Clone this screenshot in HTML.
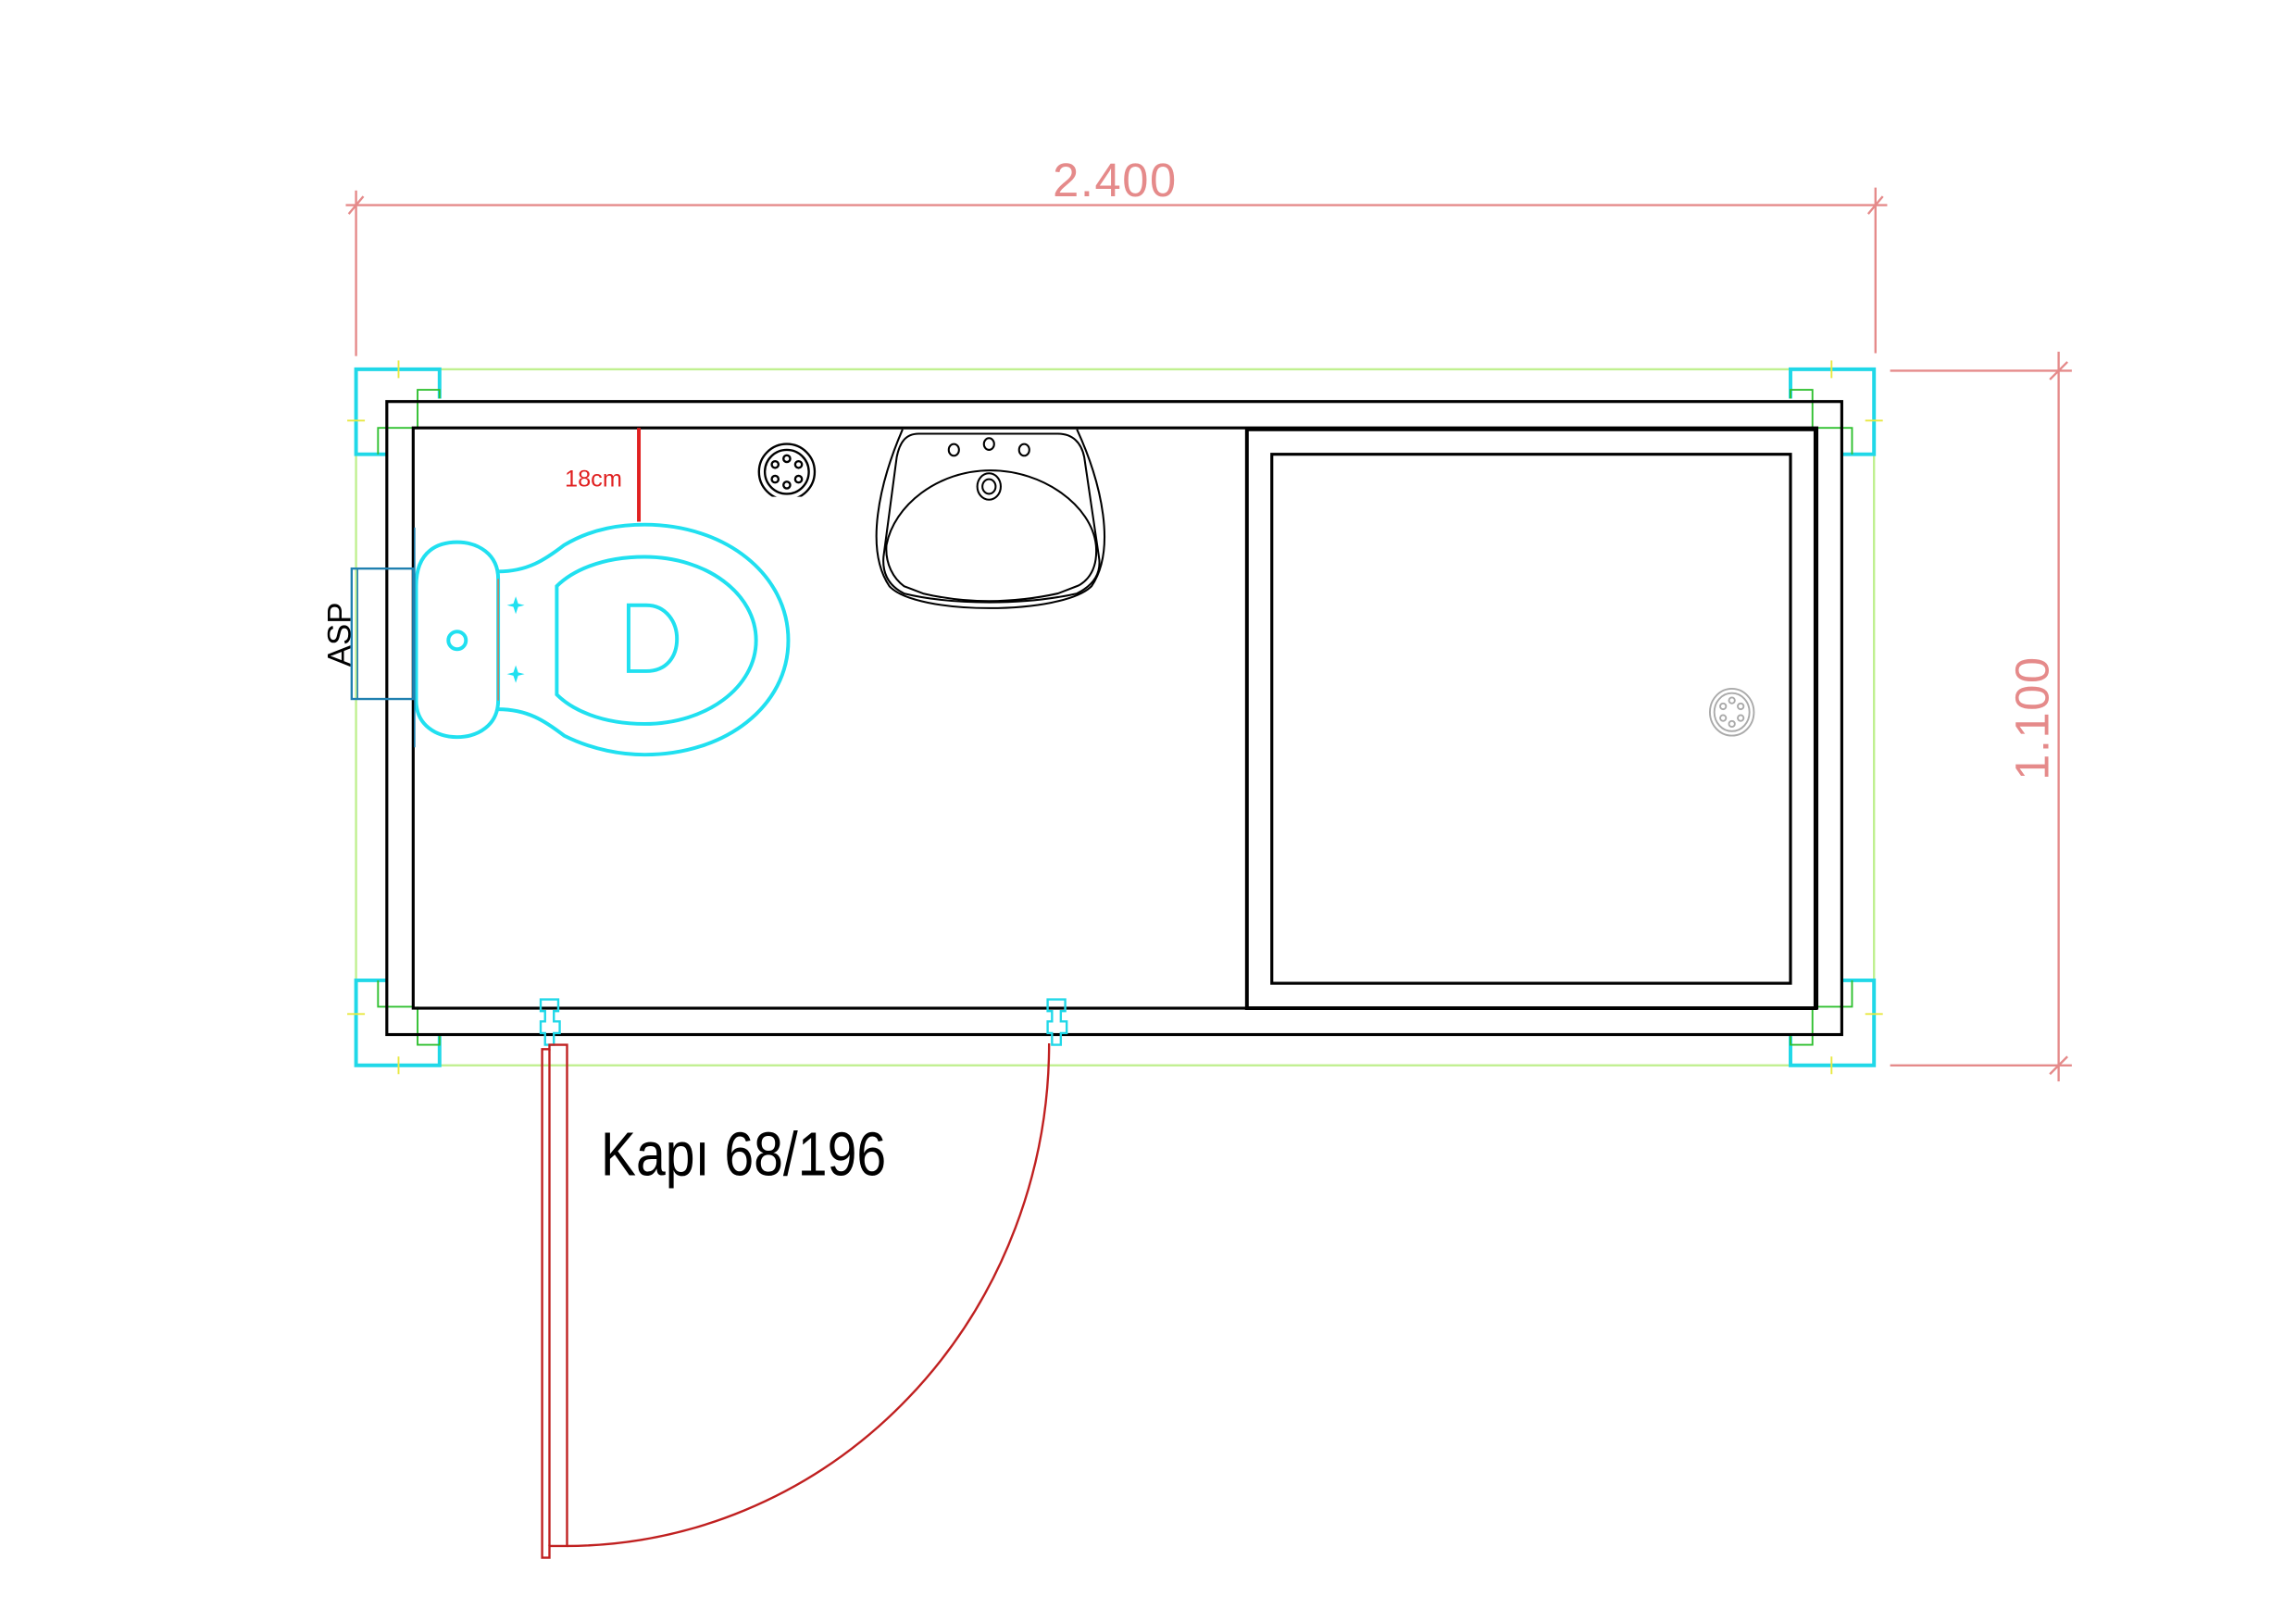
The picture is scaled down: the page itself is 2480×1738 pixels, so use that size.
<!DOCTYPE html>
<html><head><meta charset="utf-8"><style>html,body{margin:0;padding:0;background:#fff}svg{display:block}</style></head>
<body>
<svg width="2480" height="1738" viewBox="0 0 1567 1098" preserveAspectRatio="none" xmlns="http://www.w3.org/2000/svg" font-family="Liberation Sans, sans-serif">
<rect width="1567" height="1098" fill="#fff"/>
<g stroke="#e58a8a" stroke-width="1.5" fill="none">
<line x1="236" y1="140" x2="1288" y2="140"/>
<line x1="243" y1="130" x2="243" y2="243"/>
<line x1="1280" y1="128" x2="1280" y2="241"/>
<line x1="238" y1="146" x2="248" y2="134"/>
<line x1="1275" y1="146" x2="1285" y2="134"/>
<line x1="1405" y1="240" x2="1405" y2="738"/>
<line x1="1290" y1="253" x2="1414" y2="253"/>
<line x1="1290" y1="727" x2="1414" y2="727"/>
<line x1="1399" y1="259" x2="1411" y2="247"/>
<line x1="1399" y1="733" x2="1411" y2="721"/>
</g>
<text x="761" y="134" font-size="32" fill="#e58a8a" text-anchor="middle" letter-spacing="1">2.400</text>
<text transform="translate(1398,490) rotate(-90)" font-size="32" fill="#e58a8a" text-anchor="middle" letter-spacing="1">1.100</text>
<rect x="243" y="252" width="1036" height="475" fill="none" stroke="#c0f090" stroke-width="1.5"/>
<g fill="none" stroke-width="2">
<g id="c"><polyline points="300,272 300,252 243,252 243,310 264,310" stroke="#20d8e8" stroke-width="2.5"/>
<polyline points="282,292 258,292 258,310" stroke="#30c030" stroke-width="1.2"/>
<polyline points="300,272 300,266 285,266 285,292" stroke="#30c030" stroke-width="1.2"/>
<line x1="272" y1="246" x2="272" y2="258" stroke="#e8e840" stroke-width="1.2"/>
<line x1="237" y1="287" x2="249" y2="287" stroke="#e8e840" stroke-width="1.2"/></g>
<use href="#c" transform="translate(1522,0) scale(-1,1)"/>
<use href="#c" transform="translate(0,979) scale(1,-1)"/>
<use href="#c" transform="translate(1522,979) scale(-1,-1)"/>
</g>
<g fill="none" stroke="#000">
<rect x="264" y="274" width="993" height="432" stroke-width="2"/>
<rect x="282" y="292" width="958" height="396" stroke-width="2"/>
<rect x="851" y="293" width="388" height="395" stroke-width="2.5"/>
<rect x="868" y="310" width="354" height="361" stroke-width="2"/>
</g>
<g fill="none" stroke="#aaa" stroke-width="1.2">
<ellipse cx="1182" cy="486" rx="15" ry="16"/><ellipse cx="1182" cy="486" rx="12" ry="13"/>
<circle cx="1182" cy="478" r="2"/><circle cx="1182" cy="494" r="2"/><circle cx="1176" cy="482" r="2"/><circle cx="1188" cy="482" r="2"/><circle cx="1176" cy="490" r="2"/><circle cx="1188" cy="490" r="2"/>
</g>
<g fill="none" stroke="#000" stroke-width="1.5">
<ellipse cx="537" cy="322" rx="19" ry="19"/><ellipse cx="537" cy="322" rx="15" ry="15"/>
<circle cx="537" cy="313" r="2.3"/><circle cx="537" cy="331" r="2.3"/><circle cx="529" cy="317" r="2.3"/><circle cx="545" cy="317" r="2.3"/><circle cx="529" cy="327" r="2.3"/><circle cx="545" cy="327" r="2.3"/>
</g>
<rect x="515" y="339" width="44" height="4" fill="#fff"/>
<g fill="none" stroke="#000" stroke-width="1.3">
<path d="M616,293 C600,330 590,375 607,400 C625,420 725,420 745,400 C762,375 752,330 735,293"/>
<path d="M627,296 L722,296 C732,296 738,302 740,312 L750,380 C752,392 745,400 735,405 C700,413 650,413 617,405 C607,400 602,392 603,380 L612,312 C614,302 618,296 627,296 Z"/>
<path d="M605,372 C610,345 640,321 676,321 C712,321 745,345 748,372 C750,395 735,400 735,400 L722,405 C690,412 660,412 630,405 L617,400 C610,395 604,385 605,372Z"/>
<ellipse cx="651" cy="307" rx="3.5" ry="4"/><ellipse cx="675" cy="303" rx="3.5" ry="4"/><ellipse cx="699" cy="307" rx="3.5" ry="4"/>
<ellipse cx="675" cy="332" rx="8" ry="9"/><ellipse cx="675" cy="332" rx="4.5" ry="5"/>
</g>
<line x1="436" y1="292" x2="436" y2="356" stroke="#e02020" stroke-width="2.5"/>
<text x="405" y="332" font-size="16" fill="#e02020" text-anchor="middle">18cm</text>
<rect x="240" y="388" width="42" height="89" fill="none" stroke="#2080b0" stroke-width="1.5"/>
<line x1="244" y1="388" x2="244" y2="477" stroke="#2080b0" stroke-width="1"/>
<text transform="translate(239,433) rotate(-90)" font-size="22" fill="#000" text-anchor="middle">ASP</text>
<g fill="none" stroke="#20e0f0" stroke-width="2.5">
<path d="M284,400 C284,375 300,370 312,370 C326,370 340,378 340,395 L340,478 C340,495 326,503 312,503 C298,503 284,495 284,478 Z"/>
<path d="M340,390 C360,390 372,382 385,372 C405,360 425,358 440,358 C495,358 538,392 538,437 C538,482 495,515 440,515 C425,515 405,512 385,502 C372,492 360,484 340,484"/>
<path d="M380,400 C390,390 410,380 440,380 C482,380 516,405 516,437 C516,469 482,494 440,494 C410,494 390,484 380,474 Z"/>
<path d="M429,413 L441,413 C455,413 462,425 462,436 C462,448 455,458 441,458 L429,458 Z"/>
<circle cx="312" cy="437" r="6"/>
</g>
<line x1="340" y1="395" x2="340" y2="478" stroke="#c08060" stroke-width="1"/>
<line x1="283" y1="360" x2="283" y2="510" stroke="#2080b0" stroke-width="1"/>
<g fill="#20e0f0"><path d="M352,407 l2,6 l-2,6 l-2,-6z M346,413 l6,-1.5 l6,1.5 l-6,1.5z"/><path d="M352,454 l2,6 l-2,6 l-2,-6z M346,460 l6,-1.5 l6,1.5 l-6,1.5z"/></g>
<g fill="none" stroke-width="1.5">
<path d="M369,682 h12 v8 h-3 v7 h4 v8 h-4 v8 h-6 v-8 h-3 v-8 h3 v-7 h-3z" stroke="#20d8e8"/>
<path d="M715,682 h12 v8 h-3 v7 h4 v8 h-4 v8 h-6 v-8 h-3 v-8 h3 v-7 h-3z" stroke="#20d8e8"/>
<path d="M370,716 h5 v-3 h12 v342 h-12 v8 h-5 z" stroke="#c02020"/>
<line x1="375" y1="716" x2="375" y2="1055" stroke="#c02020"/>
<path d="M716,712 A330 343 0 0 1 387,1055" stroke="#c02020"/>
</g>
<text x="410" y="802" font-size="42" fill="#000" transform="translate(410,0) scale(0.86,1) translate(-410,0)">Kapı 68/196</text>
</svg>
</body></html>
